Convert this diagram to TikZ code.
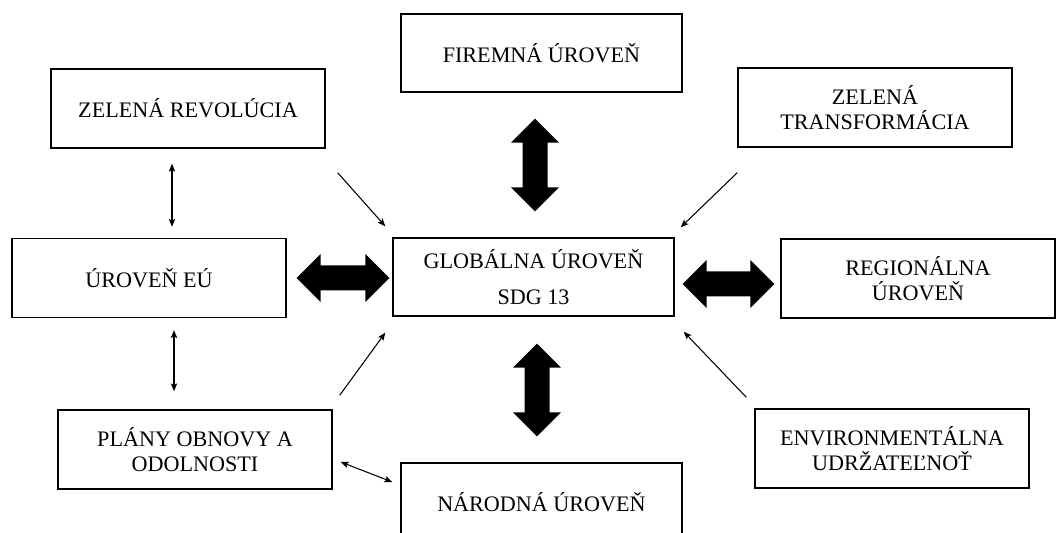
\documentclass[tikz,border=0pt]{standalone}
\usepackage{fontspec}
\setmainfont{Liberation Serif}
\usepackage{tikz}
\usetikzlibrary{arrows.meta, positioning, calc}

\newcommand{\blkarrow}[2]{%
  \fill (#1) -- ($(#1)!0.48cm!(#2)!0.48cm!90:(#2)$) -- ($(#1)!0.48cm!(#2)!0.25cm!90:(#2)$)
    -- ($(#2)!0.48cm!(#1)!0.25cm!-90:(#1)$) -- ($(#2)!0.48cm!(#1)!0.48cm!-90:(#1)$) -- (#2)
    -- ($(#2)!0.48cm!(#1)!0.48cm!90:(#1)$) -- ($(#2)!0.48cm!(#1)!0.25cm!90:(#1)$)
    -- ($(#1)!0.48cm!(#2)!0.25cm!-90:(#2)$) -- ($(#1)!0.48cm!(#2)!0.48cm!-90:(#2)$) -- cycle;}

\begin{document}
\begin{tikzpicture}[
    lvl/.style={draw, line width=0.8pt, minimum width=5.48cm, minimum height=1.58cm,
                align=center, inner sep=2pt, font=\fontsize{12.6}{14.2}\selectfont},
    lvlw/.style={lvl, minimum width=5.62cm, minimum height=1.56cm},
    conn/.style={line width=0.6pt, >={Stealth[length=4.5pt, width=3.6pt, inset=1pt]}}
]
\useasboundingbox (0,0) rectangle (21.18,10.66);

\node[lvlw] (firm)  at (10.83, 9.60) {FIREMNÁ ÚROVEŇ};
\node[lvl]  (zrev)  at (3.76, 8.49)  {ZELENÁ REVOLÚCIA};
\node[lvl]  (ztr)   at (17.50, 8.51) {ZELENÁ\\TRANSFORMÁCIA};
\node[lvl]  (eu)    at (2.98, 5.10)  {ÚROVEŇ EÚ};
\node[lvlw] (glob)  at (10.67, 5.12) {GLOBÁLNA ÚROVEŇ\\[6.3pt]SDG 13};
\node[lvl]  (reg)   at (18.36, 5.09) {REGIONÁLNA\\ÚROVEŇ};
\node[lvl]  (plany) at (3.90, 1.67)  {PLÁNY OBNOVY A\\ODOLNOSTI};
\node[lvlw] (nar)   at (10.83, 0.62) {NÁRODNÁ ÚROVEŇ};
\node[lvl]  (env)   at (17.84, 1.69) {ENVIRONMENTÁLNA\\UDRŽATEĽNOŤ};

\coordinate (firmtip) at ($(glob.north |- firm.south)+(0.03,-0.52)$);
\coordinate (globtop) at ($(glob.north)+(0.03,0.52)$);
\coordinate (globbot) at ($(glob.south)+(0.07,-0.54)$);
\coordinate (nartip)  at ($(glob.south |- nar.north)+(0.07,0.52)$);
\coordinate (eutip)   at ($(eu.east)+(0.2,0)$);
\coordinate (globlft) at ($(eu.east -| glob.west)+(-0.06,0)$);
\coordinate (globrgt) at ($(glob.east)+(0.16,-0.14)$);
\coordinate (regtip)  at ($(glob.east -| reg.west)+(-0.12,-0.14)$);

\blkarrow{firmtip}{globtop}
\blkarrow{globbot}{nartip}
\blkarrow{eutip}{globlft}
\blkarrow{globrgt}{regtip}

\draw[conn, <->, shorten <=0.3cm, shorten >=0.22cm] ([xshift=0.46cm]eu.north |- zrev.south) -- ([xshift=0.46cm]eu.north);
\draw[conn, <->, shorten <=0.24cm, shorten >=0.36cm] ([xshift=0.5cm]eu.south) -- ([xshift=0.5cm]eu.south |- plany.north);
\draw[conn, ->] ([shift={(0.24,-0.48)}]zrev.south east) -- ([shift={(-0.14,0.22)}]glob.north west);
\draw[conn, ->] ([shift={(0,-0.5)}]ztr.south west) -- ([shift={(0.12,0.2)}]glob.north east);
\draw[conn, ->] ([shift={(0.14,0.28)}]plany.north east) -- ([shift={(-0.14,-0.32)}]glob.south west);
\draw[conn, ->] ([shift={(-0.16,0.22)}]env.north west) -- ([shift={(0.18,-0.3)}]glob.south east);
\draw[conn, <->] ([shift={(0.16,-0.25)}]plany.east) -- ([shift={(-0.16,0.4)}]nar.west);
\end{tikzpicture}
\end{document}
